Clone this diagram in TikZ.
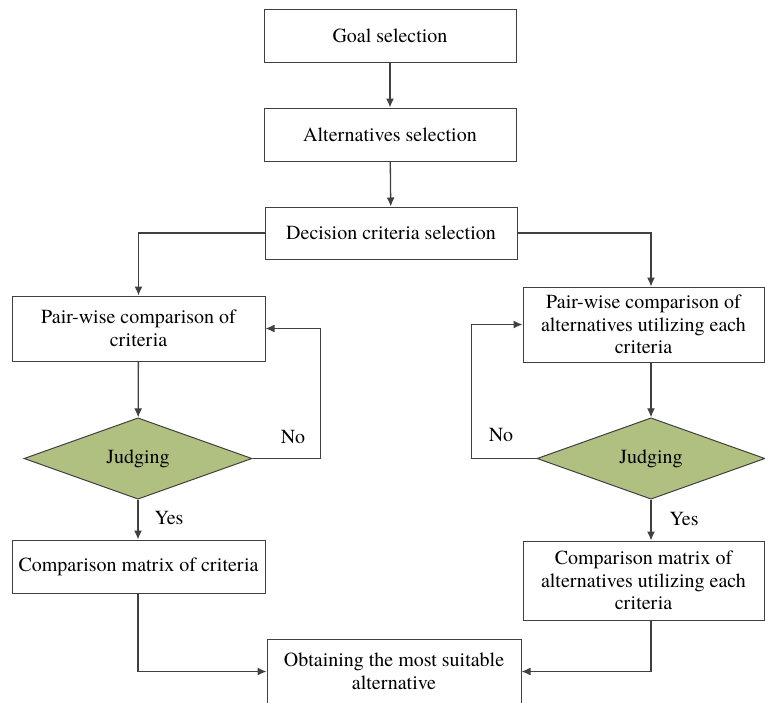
\documentclass[tikz,border=0pt]{standalone}
\usepackage{fontspec}
\setmainfont{texgyretermes}[Extension=.otf,UprightFont=*-regular,BoldFont=*-bold,ItalicFont=*-italic,BoldItalicFont=*-bolditalic]
\usepackage{xcolor}
\usetikzlibrary{arrows.meta}
\usetikzlibrary{shapes.geometric}
\usetikzlibrary{positioning}

\definecolor{linegray}{RGB}{64,64,64}
\definecolor{judgegreen}{RGB}{176,192,128}

\begin{document}
\begin{tikzpicture}[x=1pt,y=-1pt,font=\rmfamily\fontsize{20}{22.5}\selectfont]
	%\draw[help lines] (0,0) grid[step=50] (765,702);
	\useasboundingbox (0,0) rectangle (765,702);
	
	\tikzstyle{pbox} = [rectangle,draw=linegray,line width=1pt,fill=white,align=center,inner sep=2pt]
	\tikzstyle{pdec} = [diamond,draw=linegray,line width=1pt,fill=judgegreen,inner sep=0pt,minimum width=228pt,minimum height=75pt]
	\tikzstyle{pedge} = [->,>={Latex[length=9pt,width=8pt]},draw=linegray,line width=1.3pt]
	
	\node[pbox,minimum width=252pt,minimum height=53pt] (goal) at (390,35.5) {Goal selection};
	\node[pbox,minimum width=252pt,minimum height=53pt] (alt) at (390,134.5) {Alternatives selection};
	\node[pbox,minimum width=252pt,minimum height=52pt] (crit) at (391,233) {Decision criteria selection};
	
	\node[pbox,minimum width=253pt,minimum height=65pt] (pwl) at (138.5,328.5) {Pair-wise comparison of\\criteria};
	\node[pbox,minimum width=241pt,minimum height=75pt] (pwr) at (643.5,324.5) {Pair-wise comparison of\\alternatives utilizing each\\criteria};
	
	\node[pdec] (judl) at (138,458.5) {Judging};
	\node[pdec] (judr) at (651,458.5) {Judging};
	
	\node[pbox,minimum width=253pt,minimum height=53pt] (cml) at (138.5,566.5) {Comparison matrix of criteria};
	\node[pbox,minimum width=241pt,minimum height=79pt] (cmr) at (643.5,580.5) {Comparison matrix of\\alternatives utilizing each\\criteria};
	
	\node[pbox,minimum width=254pt,minimum height=65pt] (final) at (394,671.5) {Obtaining the most suitable\\alternative};
	
	\draw[pedge] (goal) -- (alt);
	\draw[pedge] (alt) -- (crit);
	\draw[pedge] (crit.west) -| (pwl.north);
	\draw[pedge] (crit.east) -| (judr.north |- pwr.north);
	
	\draw[pedge] (pwl) -- (judl);
	\draw[pedge] (judr.north |- pwr.south) -- (judr.north);
	
	\draw[pedge] (judl.east) -- ++(68,0) |- (pwl.east);
	\draw[pedge] (judr.west) -- ++(-65,0) |- (pwr.west);
	\node (nol) at (293,437) {No};
	\node (nor) at (501,435) {No};
	
	\draw[pedge] (judl.south) -- (judl.south |- cml.north);
	\draw[pedge] (judr.south) -- (judr.south |- cmr.north);
	\node (yesl) at (169,518) {Yes};
	\node (yesr) at (684,519) {Yes};
	
	\draw[pedge] (judl.south |- cml.south) |- (final.west);
	\draw[pedge] (judr.south |- cmr.south) |- (final.east);

\end{tikzpicture}
\end{document}
